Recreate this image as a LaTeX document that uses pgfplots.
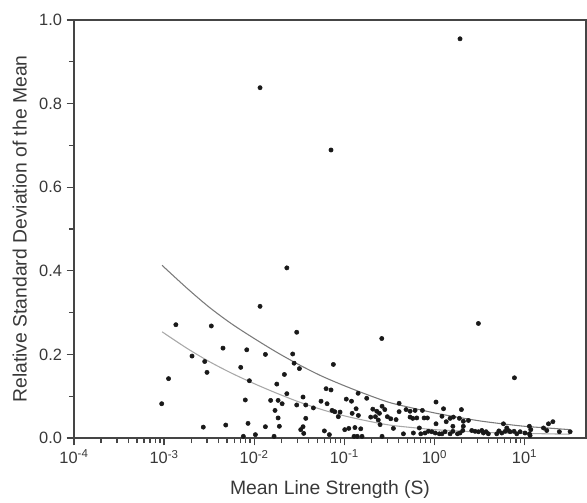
\documentclass[border=0pt]{standalone}
\usepackage{fontspec}
\setmainfont{Liberation Sans}
\usepackage{pgfplots}
\pgfplotsset{compat=1.18}
\definecolor{axisgray}{HTML}{454545}
\definecolor{textgray}{HTML}{383838}
\definecolor{fitdark}{HTML}{7A7A7A}
\definecolor{fitlight}{HTML}{A8A8A8}
\begin{document}
\begin{tikzpicture}
\begin{axis}[
    scale only axis,
    width=384pt, height=313.5pt,
    xmode=log,
    xmin=1e-4, xmax=48,
    ymin=0, ymax=1,
    xtick={1e-4,1e-3,1e-2,1e-1,1,10},
    xticklabels={10\textsuperscript{-4},10\textsuperscript{-3},10\textsuperscript{-2},10\textsuperscript{-1},10\textsuperscript{0},10\textsuperscript{1}},
    ytick={0,0.2,0.4,0.6,0.8,1.0},
    yticklabels={0.0,0.2,0.4,0.6,0.8,1.0},
    minor y tick num=1,
    xtick pos=bottom, ytick pos=left,
    tick align=outside,
    major tick length=5.5pt, minor tick length=3.8pt,
    tick style={line width=1pt, axisgray},
    axis line style={line width=1.2pt, axisgray},
    ticklabel style={font=\fontsize{12.3}{14}\selectfont, text=textgray},
    label style={font=\fontsize{14.5}{16}\selectfont, text=textgray},
    xlabel={Mean Line Strength (S)},
    ylabel={Relative Standard Deviation of the Mean},
    xlabel style={at={(axis description cs:0.5,0)}, anchor=base, yshift=-42.5pt},
    ylabel style={at={(axis description cs:-0.0925,0.5)}, anchor=base},
    clip=false,
]
\addplot[fitdark, line width=0.8pt, smooth] coordinates {
(9.5e-4,0.413) (1.78e-3,0.359) (3.16e-3,0.313) (5.62e-3,0.273) (1e-2,0.238)
(1.78e-2,0.205) (3.16e-2,0.175) (5.62e-2,0.148) (0.1,0.125) (0.178,0.104)
(0.316,0.085) (0.562,0.072) (1,0.060) (1.78,0.050) (3.16,0.041)
(5.62,0.034) (10,0.028) (17.8,0.024) (31.6,0.020)
};
\addplot[fitlight, line width=0.8pt, smooth] coordinates {
(9.5e-4,0.254) (1.78e-3,0.215) (3.16e-3,0.183) (5.62e-3,0.155) (1e-2,0.130)
(1.78e-2,0.107) (3.16e-2,0.086) (5.62e-2,0.068) (0.1,0.053) (0.178,0.041)
(0.316,0.031) (0.562,0.025) (1,0.020) (1.78,0.017) (3.16,0.014)
(5.62,0.012) (10,0.011) (17.8,0.010) (31.6,0.009)
};
\addplot[only marks, mark=*, mark size=1.6pt, black!90] table {
x y
9.4e-4 0.082
1.12e-3 0.142
1.35e-3 0.271
2.04e-3 0.196
2.82e-3 0.183
2.99e-3 0.157
3.34e-3 0.268
2.72e-3 0.026
4.83e-3 0.031
4.5e-3 0.215
7.08e-3 0.169
8.26e-3 0.211
7.96e-3 0.091
8.83e-3 0.137
8.53e-3 0.035
7.57e-3 0.004
1.03e-2 0.008
1.16e-2 0.315
1.33e-2 0.200
1.33e-2 0.027
1.52e-2 0.090
1.66e-2 0.004
1.70e-2 0.066
1.78e-2 0.129
1.84e-2 0.090
1.84e-2 0.048
1.90e-2 0.028
2.96e-2 0.253
2.67e-2 0.201
2.77e-2 0.179
3.17e-2 0.166
2.16e-2 0.152
2.30e-2 0.106
2.04e-2 0.082
2.96e-2 0.079
3.48e-2 0.098
3.73e-2 0.079
4.53e-2 0.072
5.51e-2 0.088
6.27e-2 0.118
6.43e-2 0.082
7.11e-2 0.115
7.55e-2 0.176
7.30e-2 0.066
7.82e-2 0.063
8.96e-2 0.062
8.57e-2 0.051
0.105 0.093
0.120 0.088
0.122 0.059
0.135 0.070
0.143 0.054
0.142 0.107
0.177 0.095
0.207 0.069
0.229 0.064
0.262 0.076
0.281 0.068
0.245 0.059
0.196 0.050
0.221 0.051
0.238 0.043
0.249 0.032
0.300 0.051
0.327 0.046
0.375 0.044
0.405 0.063
0.260 0.238
3.73e-2 0.047
3.48e-2 0.027
3.28e-2 0.020
3.54e-2 0.011
6.00e-2 0.017
0.101 0.020
0.112 0.023
0.131 0.025
0.152 0.022
0.350 0.023
6.82e-2 0.008
0.128 0.004
0.139 0.004
0.157 0.004
0.262 0.004
0.405 0.083
1.04 0.086
1.26 0.070
1.99 0.068
0.484 0.068
0.536 0.064
0.609 0.066
0.734 0.066
0.536 0.050
0.574 0.047
0.636 0.048
0.767 0.048
0.834 0.048
1.21 0.052
1.49 0.047
1.62 0.050
1.89 0.047
2.09 0.040
2.38 0.042
1.04 0.034
1.35 0.039
1.60 0.028
2.09 0.028
2.06 0.018
5.82 0.034
6.34 0.024
6.61 0.018
11.3 0.028
11.7 0.020
16.2 0.024
18.4 0.034
20.6 0.039
17.6 0.018
24.3 0.015
32.0 0.015
11.3 0.010
0.452 0.010
0.583 0.012
0.679 0.024
0.705 0.010
0.787 0.012
0.855 0.016
0.933 0.015
1.02 0.012
1.13 0.010
1.21 0.010
1.31 0.015
1.49 0.010
1.60 0.016
1.80 0.010
1.92 0.012
2.59 0.018
2.82 0.016
3.07 0.015
3.35 0.018
3.49 0.012
3.74 0.015
3.96 0.010
4.91 0.010
5.58 0.012
6.08 0.016
6.90 0.015
7.64 0.016
8.19 0.010
8.91 0.015
10.1 0.012
7.71 0.144
5.18 0.017
11.5 0.006
3.07 0.274
1.92 0.955
1.16e-2 0.838
7.11e-2 0.689
2.30e-2 0.407
};
\end{axis}
\pgfresetboundingbox
\path ([xshift=-55.5pt,yshift=-48pt]current axis.south west) rectangle ([xshift=0.75pt,yshift=15pt]current axis.north east);
\end{tikzpicture}
\end{document}
